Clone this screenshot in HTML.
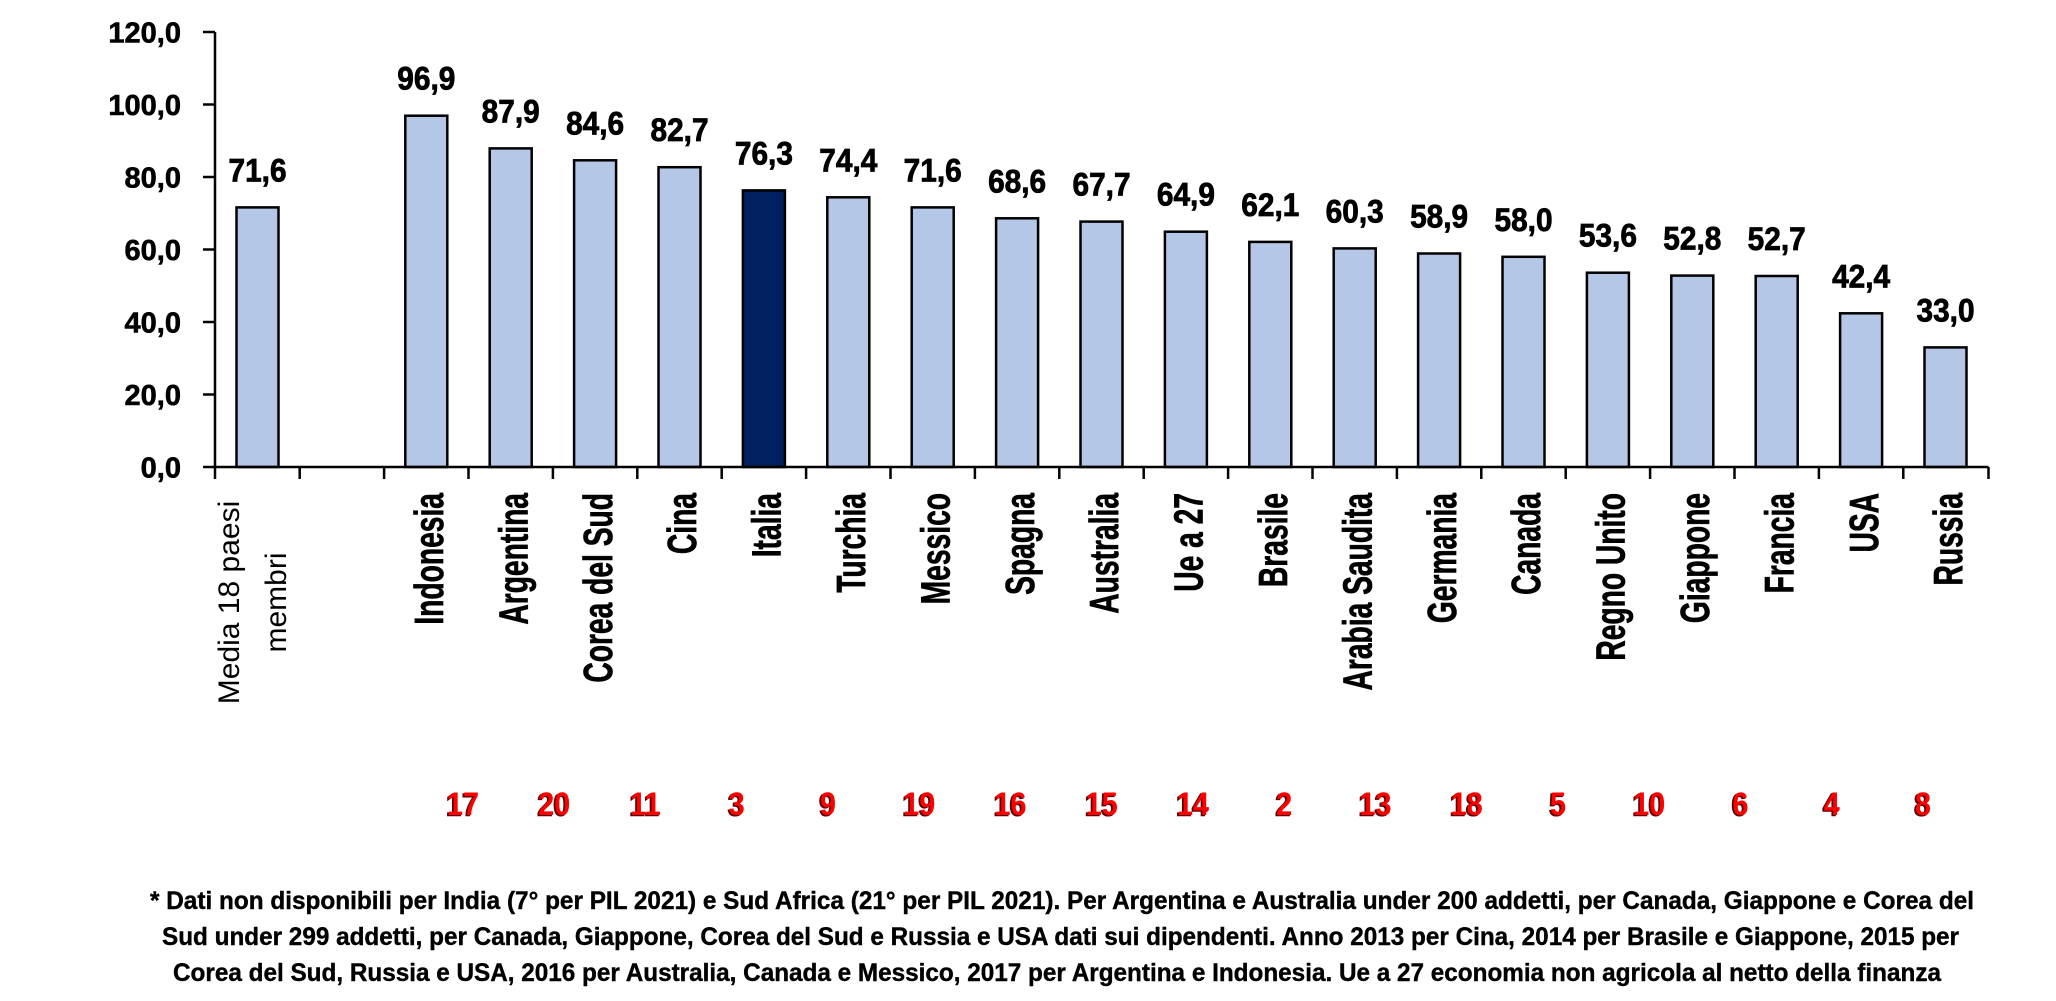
<!DOCTYPE html>
<html><head><meta charset="utf-8"><style>
html,body{margin:0;padding:0;background:#fff;}
svg{display:block;}
text{font-family:"Liberation Sans",Arial,sans-serif;}
</style></head><body>
<svg width="2056" height="1001" viewBox="0 0 2056 1001" xmlns="http://www.w3.org/2000/svg">
<rect width="2056" height="1001" fill="#fff"/>
<!-- bars -->
<g stroke="#000" stroke-width="2.5" fill="#B4C7E7">
<rect x="236.5" y="207.4" width="42" height="259.6"/>
<rect x="405.3" y="115.7" width="42" height="351.3"/>
<rect x="489.7" y="148.4" width="42" height="318.6"/>
<rect x="574.1" y="160.3" width="42" height="306.7"/>
<rect x="658.5" y="167.2" width="42" height="299.8"/>
<rect x="742.9" y="190.4" width="42" height="276.6" fill="#00205F"/>
<rect x="827.3" y="197.3" width="42" height="269.7"/>
<rect x="911.7" y="207.4" width="42" height="259.6"/>
<rect x="996.1" y="218.3" width="42" height="248.7"/>
<rect x="1080.5" y="221.6" width="42" height="245.4"/>
<rect x="1164.9" y="231.7" width="42" height="235.3"/>
<rect x="1249.3" y="241.9" width="42" height="225.1"/>
<rect x="1333.7" y="248.4" width="42" height="218.6"/>
<rect x="1418.1" y="253.5" width="42" height="213.5"/>
<rect x="1502.5" y="256.8" width="42" height="210.2"/>
<rect x="1586.9" y="272.7" width="42" height="194.3"/>
<rect x="1671.3" y="275.6" width="42" height="191.4"/>
<rect x="1755.7" y="276.0" width="42" height="191.0"/>
<rect x="1840.1" y="313.3" width="42" height="153.7"/>
<rect x="1924.5" y="347.4" width="42" height="119.6"/>
</g>
<!-- axes -->
<g stroke="#000" stroke-width="2.5" fill="none">
<line x1="215" y1="32" x2="215" y2="467"/>
<line x1="203" y1="467" x2="1988.5" y2="467"/>
<line x1="203" y1="32" x2="215" y2="32"/>
<line x1="203" y1="104.5" x2="215" y2="104.5"/>
<line x1="203" y1="177" x2="215" y2="177"/>
<line x1="203" y1="249.5" x2="215" y2="249.5"/>
<line x1="203" y1="322" x2="215" y2="322"/>
<line x1="203" y1="394.5" x2="215" y2="394.5"/>
<line x1="215" y1="467" x2="215" y2="479"/>
<line x1="299.7" y1="467" x2="299.7" y2="479"/>
<line x1="384.1" y1="467" x2="384.1" y2="479"/>
<line x1="468.5" y1="467" x2="468.5" y2="479"/>
<line x1="552.9" y1="467" x2="552.9" y2="479"/>
<line x1="637.3" y1="467" x2="637.3" y2="479"/>
<line x1="721.7" y1="467" x2="721.7" y2="479"/>
<line x1="806.1" y1="467" x2="806.1" y2="479"/>
<line x1="890.5" y1="467" x2="890.5" y2="479"/>
<line x1="974.9" y1="467" x2="974.9" y2="479"/>
<line x1="1059.3" y1="467" x2="1059.3" y2="479"/>
<line x1="1143.7" y1="467" x2="1143.7" y2="479"/>
<line x1="1228.1" y1="467" x2="1228.1" y2="479"/>
<line x1="1312.5" y1="467" x2="1312.5" y2="479"/>
<line x1="1396.9" y1="467" x2="1396.9" y2="479"/>
<line x1="1481.3" y1="467" x2="1481.3" y2="479"/>
<line x1="1565.7" y1="467" x2="1565.7" y2="479"/>
<line x1="1650.1" y1="467" x2="1650.1" y2="479"/>
<line x1="1734.5" y1="467" x2="1734.5" y2="479"/>
<line x1="1818.9" y1="467" x2="1818.9" y2="479"/>
<line x1="1903.3" y1="467" x2="1903.3" y2="479"/>
<line x1="1988.5" y1="467" x2="1988.5" y2="479"/>
</g>
<!-- y labels -->
<g font-size="29" font-weight="bold" text-anchor="end" fill="#000" stroke="#000" stroke-width="0.6">
<text x="181" y="42.5">120,0</text>
<text x="181" y="115">100,0</text>
<text x="181" y="187.5">80,0</text>
<text x="181" y="260">60,0</text>
<text x="181" y="332.5">40,0</text>
<text x="181" y="405">20,0</text>
<text x="181" y="477.5">0,0</text>
</g>
<!-- data labels -->
<g font-size="32.6" font-weight="bold" text-anchor="middle" fill="#000" stroke="#000" stroke-width="0.8">
<text transform="translate(257.5,181.4) scale(0.915,1)">71,6</text>
<text transform="translate(426.3,89.7) scale(0.915,1)">96,9</text>
<text transform="translate(510.7,122.4) scale(0.915,1)">87,9</text>
<text transform="translate(595.1,134.3) scale(0.915,1)">84,6</text>
<text transform="translate(679.5,141.2) scale(0.915,1)">82,7</text>
<text transform="translate(763.9,164.4) scale(0.915,1)">76,3</text>
<text transform="translate(848.3,171.3) scale(0.915,1)">74,4</text>
<text transform="translate(932.7,181.4) scale(0.915,1)">71,6</text>
<text transform="translate(1017.1,192.3) scale(0.915,1)">68,6</text>
<text transform="translate(1101.5,195.6) scale(0.915,1)">67,7</text>
<text transform="translate(1185.9,205.7) scale(0.915,1)">64,9</text>
<text transform="translate(1270.3,215.9) scale(0.915,1)">62,1</text>
<text transform="translate(1354.7,222.4) scale(0.915,1)">60,3</text>
<text transform="translate(1439.1,227.5) scale(0.915,1)">58,9</text>
<text transform="translate(1523.5,230.8) scale(0.915,1)">58,0</text>
<text transform="translate(1607.9,246.7) scale(0.915,1)">53,6</text>
<text transform="translate(1692.3,249.6) scale(0.915,1)">52,8</text>
<text transform="translate(1776.7,250.0) scale(0.915,1)">52,7</text>
<text transform="translate(1861.1,287.3) scale(0.915,1)">42,4</text>
<text transform="translate(1945.5,321.4) scale(0.915,1)">33,0</text>
</g>
<!-- category labels -->
<g font-size="30" text-anchor="middle" fill="#000">
<text transform="translate(239,602.5) rotate(-90)">Media 18 paesi</text>
<text transform="translate(286,602.5) rotate(-90)">membri</text>
</g>
<g font-size="41" font-weight="bold" text-anchor="end" fill="#000" stroke="#000" stroke-width="0.7">
<text transform="translate(443,493) rotate(-90) scale(0.688,1)">Indonesia</text>
<text transform="translate(527.4,493) rotate(-90) scale(0.688,1)">Argentina</text>
<text transform="translate(611.8,493) rotate(-90) scale(0.688,1)">Corea del Sud</text>
<text transform="translate(696.2,493) rotate(-90) scale(0.688,1)">Cina</text>
<text transform="translate(780.6,493) rotate(-90) scale(0.688,1)">Italia</text>
<text transform="translate(865,493) rotate(-90) scale(0.688,1)">Turchia</text>
<text transform="translate(949.4,493) rotate(-90) scale(0.688,1)">Messico</text>
<text transform="translate(1033.8,493) rotate(-90) scale(0.688,1)">Spagna</text>
<text transform="translate(1118.2,493) rotate(-90) scale(0.688,1)">Australia</text>
<text transform="translate(1202.6,493) rotate(-90) scale(0.688,1)">Ue a 27</text>
<text transform="translate(1287,493) rotate(-90) scale(0.688,1)">Brasile</text>
<text transform="translate(1371.4,493) rotate(-90) scale(0.688,1)">Arabia Saudita</text>
<text transform="translate(1455.8,493) rotate(-90) scale(0.688,1)">Germania</text>
<text transform="translate(1540.2,493) rotate(-90) scale(0.688,1)">Canada</text>
<text transform="translate(1624.6,493) rotate(-90) scale(0.688,1)">Regno Unito</text>
<text transform="translate(1709,493) rotate(-90) scale(0.688,1)">Giappone</text>
<text transform="translate(1793.4,493) rotate(-90) scale(0.688,1)">Francia</text>
<text transform="translate(1877.8,493) rotate(-90) scale(0.688,1)">USA</text>
<text transform="translate(1962.2,493) rotate(-90) scale(0.688,1)">Russia</text>
</g>
<!-- red rank numbers -->
<g font-size="32" font-weight="bold" text-anchor="middle">
<g fill="#5a0000" stroke="#5a0000" stroke-width="0.6" transform="translate(-1.5,1.2)">
<text transform="translate(463,815) scale(0.9,1)">17</text>
<text transform="translate(554.25,815) scale(0.9,1)">20</text>
<text transform="translate(645.5,815) scale(0.9,1)">11</text>
<text transform="translate(736.75,815) scale(0.9,1)">3</text>
<text transform="translate(828,815) scale(0.9,1)">9</text>
<text transform="translate(919.25,815) scale(0.9,1)">19</text>
<text transform="translate(1010.5,815) scale(0.9,1)">16</text>
<text transform="translate(1101.75,815) scale(0.9,1)">15</text>
<text transform="translate(1193,815) scale(0.9,1)">14</text>
<text transform="translate(1284.25,815) scale(0.9,1)">2</text>
<text transform="translate(1375.5,815) scale(0.9,1)">13</text>
<text transform="translate(1466.75,815) scale(0.9,1)">18</text>
<text transform="translate(1558,815) scale(0.9,1)">5</text>
<text transform="translate(1649.25,815) scale(0.9,1)">10</text>
<text transform="translate(1740.5,815) scale(0.9,1)">6</text>
<text transform="translate(1831.75,815) scale(0.9,1)">4</text>
<text transform="translate(1923,815) scale(0.9,1)">8</text>
</g>
<g fill="#FF0000">
<text transform="translate(463,815) scale(0.9,1)">17</text>
<text transform="translate(554.25,815) scale(0.9,1)">20</text>
<text transform="translate(645.5,815) scale(0.9,1)">11</text>
<text transform="translate(736.75,815) scale(0.9,1)">3</text>
<text transform="translate(828,815) scale(0.9,1)">9</text>
<text transform="translate(919.25,815) scale(0.9,1)">19</text>
<text transform="translate(1010.5,815) scale(0.9,1)">16</text>
<text transform="translate(1101.75,815) scale(0.9,1)">15</text>
<text transform="translate(1193,815) scale(0.9,1)">14</text>
<text transform="translate(1284.25,815) scale(0.9,1)">2</text>
<text transform="translate(1375.5,815) scale(0.9,1)">13</text>
<text transform="translate(1466.75,815) scale(0.9,1)">18</text>
<text transform="translate(1558,815) scale(0.9,1)">5</text>
<text transform="translate(1649.25,815) scale(0.9,1)">10</text>
<text transform="translate(1740.5,815) scale(0.9,1)">6</text>
<text transform="translate(1831.75,815) scale(0.9,1)">4</text>
<text transform="translate(1923,815) scale(0.9,1)">8</text>
</g>
</g>
<!-- footnote -->
<g font-size="25" font-weight="bold" fill="#000" stroke="#000" stroke-width="0.4">
<text x="150" y="909" textLength="1824" lengthAdjust="spacingAndGlyphs">* Dati non disponibili per India (7° per PIL 2021) e Sud Africa (21° per PIL 2021). Per Argentina e Australia under 200 addetti, per Canada, Giappone e Corea del</text>
<text x="162" y="945" textLength="1797" lengthAdjust="spacingAndGlyphs">Sud under 299 addetti, per Canada, Giappone, Corea del Sud e Russia e USA dati sui dipendenti. Anno 2013 per Cina, 2014 per Brasile e Giappone, 2015 per</text>
<text x="173" y="981" textLength="1768" lengthAdjust="spacingAndGlyphs">Corea del Sud, Russia e USA, 2016 per Australia, Canada e Messico, 2017 per Argentina e Indonesia. Ue a 27 economia non agricola al netto della finanza</text>
</g>
</svg>
</body></html>
